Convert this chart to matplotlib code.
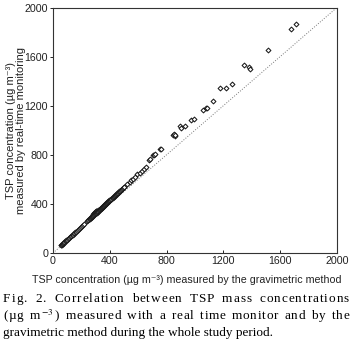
import numpy as np
import matplotlib
matplotlib.use("Agg")
import matplotlib.pyplot as plt

# Datos (µg m-3): gravimétrico vs. monitoreo en tiempo real
grav = [55, 58, 62, 64, 68, 72, 76, 80, 85, 90, 95, 100, 104, 110, 115, 120, 126, 130,
        136, 140, 146, 150, 156, 162, 168, 174, 180, 188, 196, 204, 212, 220,
        242, 246, 250, 254, 258, 262, 266, 270, 272, 274, 276, 278, 280, 282, 284,
        285, 287, 288, 290, 291, 293, 294, 296, 297, 299, 300, 302, 304, 305, 307,
        310, 312, 314, 316, 318, 320, 322, 325, 327, 328, 330, 332, 334, 336, 338,
        340, 342, 344, 346, 348, 350, 352, 354, 356, 358, 360, 362, 364, 366, 368,
        370, 372, 374, 376, 378, 380, 383, 385, 388, 390, 393, 395, 398, 400, 403,
        406, 409, 412, 416, 420, 424, 428, 432, 435, 438, 442, 446, 450, 454, 458,
        462, 465, 468, 472, 476, 480, 484, 488, 492, 495, 498, 502,
        520, 540, 552, 565, 576, 595, 610, 624, 640, 655,
        678, 683, 705, 712, 718, 752, 764,
        845, 852, 858, 862, 898, 905, 933, 974, 993,
        1057, 1076, 1088, 1129, 1179, 1217, 1260, 1345, 1381, 1385,
        1517, 1676, 1714]
realtime = [62, 64, 68, 70, 76, 80, 84, 88, 94, 98, 104, 110, 113, 120, 124, 130, 136, 140,
            147, 150, 157, 161, 168, 173, 180, 186, 193, 200, 210, 218, 226, 236,
            262, 265, 270, 274, 278, 282, 286, 292, 294, 296, 298, 300, 302, 304, 318,
            308, 322, 312, 326, 314, 330, 318, 334, 322, 338, 324, 340, 328, 344, 330,
            334, 346, 338, 350, 342, 346, 348, 352, 354, 354, 356, 358, 360, 362, 364,
            366, 368, 370, 372, 374, 376, 378, 380, 383, 384, 386, 389, 392, 394, 396,
            400, 402, 404, 406, 408, 409, 412, 414, 418, 420, 423, 425, 428, 430, 433,
            436, 440, 443, 447, 452, 456, 460, 464, 468, 471, 476, 480, 484, 488, 492,
            496, 500, 504, 508, 512, 516, 520, 524, 528, 532, 535, 540,
            560, 582, 594, 606, 618, 640, 655, 670, 686, 702,
            760, 765, 797, 800, 803, 847, 849,
            960, 970, 955, 965, 1034, 1020, 1037, 1085, 1094,
            1164, 1178, 1182, 1237, 1346, 1343, 1379, 1528, 1515, 1500,
            1653, 1824, 1867]

ticks = [0, 400, 800, 1200, 1600, 2000]

# Pie de figura en fragmentos (las dos primeras líneas van justificadas)
caption = [list("Fig. 2. Correlation between TSP mass concentrations"),
           list("(µg m") + ["$^{-3}$"] + list(") measured with a real time monitor and by the"),
           "gravimetric method during the whole study period."]

plt.rcParams['mathtext.fontset'] = 'stix'
sans = ['Liberation Sans', 'DejaVu Sans']
serif = ['Liberation Serif', 'DejaVu Serif']

fig = plt.figure(figsize=(3.53, 3.56), dpi=100)
ax = fig.add_axes([0.150, 0.2893, 0.8045, 0.6896])

# Línea 1:1 punteada
ax.plot([0, 2000], [0, 2000], linestyle=':', color='#777777', linewidth=0.7)

# Puntos como rombos abiertos
ax.scatter(grav, realtime, marker='D', s=6, facecolors='white',
           edgecolors='#1a1a1a', linewidths=0.75, zorder=3)

ax.set_xlim(0, 2000)
ax.set_ylim(0, 2000)
ax.set_xticks(ticks)
ax.set_yticks(ticks)
ax.tick_params(axis='x', direction='in', length=2, width=0.6, labelsize=7.7, pad=2)
ax.tick_params(axis='y', direction='out', length=2.5, width=0.6, labelsize=7.7, pad=1)
for lab in ax.get_xticklabels() + ax.get_yticklabels():
    lab.set_family(sans)
    lab.set_color('#222222')
for sp in ax.spines.values():
    sp.set_linewidth(0.8)
    sp.set_color('#333333')

ax.set_xlabel('TSP concentration (µg m⁻³) measured by the gravimetric method',
              family=sans, fontsize=7.7, color='#222222')
ax.xaxis.set_label_coords(0.472, -0.09)
ax.set_ylabel('TSP concentration (µg m⁻³)\nmeasured by real-time monitoring',
              family=sans, fontsize=8.0, linespacing=1.05, color='#222222')
ax.yaxis.set_label_coords(-0.095, 0.5)

# Justificación manual con espaciado entre letras y palabras
renderer = fig.canvas.get_renderer()
fw = fig.bbox.width
x0, x1 = 3 / 353, 349 / 353
ys = [1 - 299 / 356, 1 - 316 / 356, 1 - 333 / 356]
cap_size = 9.5


def ancho(s):
    t = fig.text(0, 0, s + 'x', family=serif, fontsize=cap_size)
    r = fig.text(0, 0, 'x', family=serif, fontsize=cap_size)
    w = (t.get_window_extent(renderer).width - r.get_window_extent(renderer).width) / fw
    t.remove()
    r.remove()
    return w


for i, line in enumerate(caption):
    if isinstance(line, str):
        fig.text(x0, ys[i], line, family=serif, fontsize=cap_size, va='center', ha='left')
        continue
    pos = [ancho(''.join(line[:k])) for k in range(len(line) + 1)]
    extra = (x1 - x0) - pos[-1]
    pesos = [4 if c == ' ' else 1 for c in line[:-1]]
    unidad = extra / sum(pesos)
    desplaz = 0.0
    for k, tok in enumerate(line):
        if tok != ' ':
            fig.text(x0 + pos[k] + desplaz, ys[i], tok, family=serif,
                     fontsize=cap_size, va='center', ha='left')
        if k < len(pesos):
            desplaz += pesos[k] * unidad

fig.savefig('out.png', dpi=100)
